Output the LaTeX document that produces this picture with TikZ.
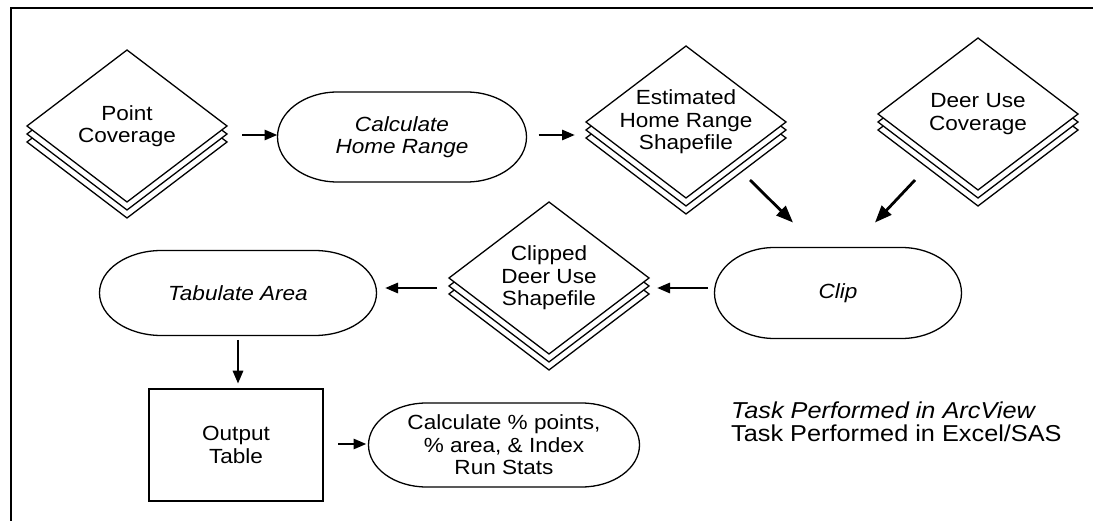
\documentclass[tikz,border=0pt]{standalone}
\usepackage{fontspec}
\newfontfamily\lab[FakeStretch=1.1]{Liberation Sans}
\usetikzlibrary{shapes.geometric,arrows.meta}

\tikzset{
  shapeline/.style={draw=black, line width=1.3pt},
  flowarrow/.style={line width=2.8pt, -{Triangle[length=13pt,width=10pt]}},
  bigarrow/.style={flowarrow, -{Triangle[length=17pt,width=13pt]}},
  lbl/.style={font=\lab\fontsize{20.5}{22.5}\selectfont, align=center, inner sep=0pt},
  legendtext/.style={font=\lab\fontsize{23}{24}\selectfont, inner sep=0pt, anchor=base west},
  sheet/.style={diamond, shapeline, fill=white, minimum width=200pt,
                minimum height=152pt, inner sep=0pt, outer sep=0pt},
  ovalbox/.style 2 args={rectangle, minimum width=#1pt, minimum height=#2pt,
                inner sep=0pt, outer sep=0pt},
  tablebox/.style={rectangle, draw=black, line width=2.5pt, fill=white,
                minimum width=174pt, minimum height=112pt, inner sep=0pt}
}

% stack of three sheets: name, x, y, text
\newcommand\sheetstack[4]{%
  \foreach \dd in {16,8}{%
    \draw[shapeline, fill=white] (#2,#3+\dd) ++(-100,0) -- ++(100,76)
      -- ++(100,-76) -- ++(-100,-76) -- cycle;}
  \node[sheet] (#1) at (#2,#3) {};
  \node[lbl] (#1-text) at (#2,#3) {#4};
}

% terminal outline round a rectangular node: name, x radius, y radius
\newcommand\ovaloutline[3]{%
  \draw[shapeline] ([xshift=#2]#1.north west) -- ([xshift=-#2]#1.north east)
    arc[start angle=90, end angle=-90, x radius=#2, y radius=#3]
    -- ([xshift=#2]#1.south west)
    arc[start angle=270, end angle=90, x radius=#2, y radius=#3] -- cycle;
}

\begin{document}
\begin{tikzpicture}[x=1pt, y=-1pt]
  \fill[white] (0,0) rectangle (1093,521);
  \useasboundingbox (0,0) rectangle (1093,521);

  % frame
  \draw[line width=2.5pt] (11,521) -- (11,8) -- (1094,8);

  % data layers
  \sheetstack{pc}{127}{126}{Point\\Coverage}
  \sheetstack{est}{686}{122}{Estimated\\Home Range\\Shapefile}
  \sheetstack{deer}{978}{114}{Deer Use\\Coverage}
  \sheetstack{clipped}{549}{278}{Clipped\\Deer Use\\Shapefile}

  % processes
  \node[ovalbox={249}{90}, lbl] (calc) at (402,137) {\itshape Calculate\\\itshape Home Range};
  \ovaloutline{calc}{60pt}{45pt}
  \node[ovalbox={247}{91}, lbl] (clip) at (838,293) {\itshape Clip};
  \ovaloutline{clip}{60pt}{45.5pt}
  \node[ovalbox={277}{85}, lbl] (tab) at (238,293) {\itshape Tabulate Area};
  \ovaloutline{tab}{62pt}{42.5pt}
  \node[ovalbox={271}{84}, lbl] (stats) at (504,445) {Calculate \% points,\\\% area, \& Index\\Run Stats};
  \ovaloutline{stats}{58pt}{42pt}

  % output
  \node[tablebox, lbl] (out) at (236,445) {Output\\Table};

  % flow
  \draw[flowarrow] ([xshift=15pt,yshift=-9pt]pc.east) -- ([yshift=2pt]calc.west);
  \draw[flowarrow] ([xshift=12pt,yshift=2pt]calc.east) -- ([xshift=-11pt,yshift=-13pt]est.west);
  \draw[bigarrow] ([xshift=14pt,yshift=-20pt]est.south east) -- ([xshift=-45pt,yshift=25pt]clip.north);
  \draw[bigarrow] ([xshift=-13pt,yshift=-28pt]deer.south west) -- ([xshift=37pt,yshift=25pt]clip.north);
  \draw[flowarrow] ([xshift=-6.5pt,yshift=5pt]clip.west) -- ([xshift=8pt,yshift=-10pt]clipped.east);
  \draw[flowarrow] ([xshift=-12pt,yshift=-10pt]clipped.west) -- ([xshift=8.5pt,yshift=5pt]tab.east);
  \draw[flowarrow] ([yshift=-4.5pt]tab.south) -- ([yshift=4pt]tab.south |- out.north);
  \draw[flowarrow] ([xshift=14pt,yshift=1pt]out.east) -- ([xshift=-2pt,yshift=1pt]stats.west);

  % legend
  \node[legendtext] (leg1) at (731,418) {\itshape Task Performed in ArcView};
  \node[legendtext] (leg2) at (731,442) {Task Performed in Excel/SAS};
\end{tikzpicture}
\end{document}
